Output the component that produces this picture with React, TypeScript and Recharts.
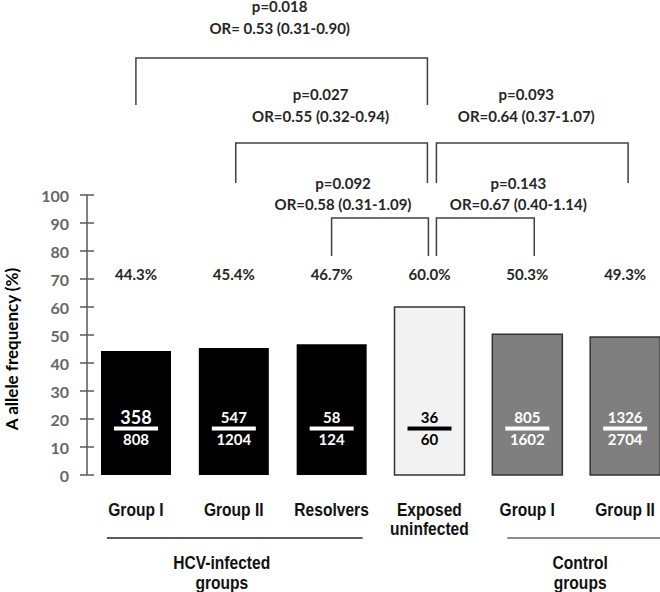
import React from "react";
import { BarChart, Bar, XAxis, YAxis, Cell, LabelList, ReferenceLine } from "recharts";

// categories (ids are unique because two groups share the same label)
const ids = ["hcvI", "hcvII", "resolvers", "exposed", "ctrlI", "ctrlII"];
const tickLabels = [["Group I"], ["Group II"], ["Resolvers"], ["Exposed", "uninfected"], ["Group I"], ["Group II"]];
const frequency = [44.3, 45.4, 46.7, 60.0, 50.3, 49.3];
const alleleA = [358, 547, 58, 36, 805, 1326];
const alleleTotal = [808, 1204, 124, 60, 1602, 2704];
const yTicks = [0, 10, 20, 30, 40, 50, 60, 70, 80, 90, 100];

// comparisons
const compFrom = ["hcvI", "hcvII", "exposed", "resolvers", "exposed"];
const compTo = ["exposed", "exposed", "ctrlII", "exposed", "ctrlI"];
const pValues = ["p=0.018", "p=0.027", "p=0.093", "p=0.092", "p=0.143"];
const orValues = ["OR= 0.53 (0.31-0.90)", "OR=0.55 (0.32-0.94)", "OR=0.64 (0.37-1.07)", "OR=0.58 (0.31-1.09)", "OR=0.67 (0.40-1.14)"];

// group captions under the axis
const groupFrom = ["hcvI", "ctrlI"];
const groupTo = ["resolvers", "ctrlII"];
const groupNames = [["HCV-infected", "groups"], ["Control", "groups"]];

// styling / layout
const barFill = ["#000", "#000", "#000", "#f2f2f2", "#7f7f7f", "#7f7f7f"];
const barStroke = ["none", "none", "none", "#333", "#333", "#333"];
const fracColor = ["#fff", "#fff", "#fff", "#000", "#fff", "#fff"];
const bracketStyle = [
  { level: 148.9, leg: 47, dx1: 0, dx2: -2, tdx: -2, pdy: -52, ody: -30 },
  { level: 118.6, leg: 40, dx1: 2, dx2: -2, tdx: -11, pdy: -49, ody: -27 },
  { level: 118.6, leg: 40, dx1: 7, dx2: 3, tdx: -6, pdy: -49, ody: -27 },
  { level: 91.8, leg: 38, dx1: 0, dx2: -1, tdx: -37, pdy: -35, ody: -14 },
  { level: 91.8, leg: 38, dx1: 7, dx2: 7, tdx: 33, pdy: -35, ody: -14 },
];
const groupStyle = [
  { dx1: -29, dx2: 31, tdx: -12, color: "#222" },
  { dx1: -20, dx2: 40, tdx: 4, color: "#666" },
];

const NUM_FONT = "Lato, 'Open Sans', sans-serif";
// no narrow face installed: Liberation Sans squeezed horizontally instead
const LABEL_FONT = "'Liberation Sans', Arial, sans-serif";
const NARROW = 0.82;

const data = ids.map((id, i) => ({
  id,
  freq: frequency[i],
  frac: `${alleleA[i]}/${alleleTotal[i]}`,
}));

function NarrowText({ x, y, children }: any) {
  return (
    <text transform={`translate(${x},${y}) scale(${NARROW},1)`} textAnchor="middle" dominantBaseline="central"
      fontFamily={LABEL_FONT} fontWeight={700} fontSize={19} fill="#111">{children}</text>
  );
}

function PercentLabel(props: any) {
  const { x, y, width, height, value } = props;
  const bottom = y + height;
  const ppu = height / value;
  return (
    <text x={x + width / 2} y={bottom - 71.8 * ppu} textAnchor="middle" dominantBaseline="central"
      fontFamily={NUM_FONT} fontWeight={700} fontSize={15} fill="#262626">
      {`${Number(value).toFixed(1)}%`}
    </text>
  );
}

function FractionLabel(props: any) {
  const { x, y, width, height, value, index } = props;
  const [num, den] = String(value).split("/");
  const i = index ?? 0;
  const bottom = y + height;
  const ppu = height / frequency[i];
  const cx = x + width / 2;
  const ly = bottom - 16.6 * ppu;
  const col = fracColor[i];
  return (
    <g>
      <rect x={cx - 22} y={ly - 2} width={44} height={4} fill={col} />
      <text x={cx} y={ly - 12} textAnchor="middle" dominantBaseline="central" fontFamily={NUM_FONT}
        fontWeight={700} fontSize={i === 0 ? 18 : 15} fill={col}>{num}</text>
      <text x={cx} y={ly + 10} textAnchor="middle" dominantBaseline="central" fontFamily={NUM_FONT}
        fontWeight={700} fontSize={15} fill={col}>{den}</text>
    </g>
  );
}

function YTick(props: any) {
  const { x, y, payload } = props;
  return (
    <g>
      <line x1={x + 11} x2={x + 25} y1={y} y2={y} stroke="#595959" strokeWidth={1.5} />
      <text x={x} y={y} textAnchor="end" dominantBaseline="central" fontFamily={NUM_FONT}
        fontWeight={700} fontSize={16} fill="#666">{payload.value}</text>
    </g>
  );
}

function XTick(props: any) {
  const { x, y, payload } = props;
  const lines = tickLabels[ids.indexOf(payload.value)] || [];
  return (
    <g>
      {lines.map((t, k) => (
        <NarrowText key={k} x={x} y={y + 34 + k * 19}>{t}</NarrowText>
      ))}
    </g>
  );
}

function makeBracket(k: number) {
  const s = bracketStyle[k];
  return (props: any) => {
    const { x1, x2, y1 } = props;
    const a = x1 + s.dx1;
    const b = x2 + s.dx2;
    const mid = (a + b) / 2 + s.tdx;
    return (
      <g>
        <path d={`M${a},${y1 + s.leg}V${y1}H${b}V${y1 + s.leg}`} fill="none" stroke="#404040" strokeWidth={1.5} />
        <text x={mid} y={y1 + s.pdy} textAnchor="middle" dominantBaseline="central" fontFamily={NUM_FONT}
          fontWeight={700} fontSize={15} fill="#262626">{pValues[k]}</text>
        <text x={mid} y={y1 + s.ody} textAnchor="middle" dominantBaseline="central" fontFamily={NUM_FONT}
          fontWeight={700} fontSize={15} fill="#262626">{orValues[k]}</text>
      </g>
    );
  };
}

function makeGroup(k: number) {
  const s = groupStyle[k];
  return (props: any) => {
    const { x1, x2, y1 } = props;
    const mid = (x1 + x2) / 2 + s.tdx;
    return (
      <g>
        <line x1={x1 + s.dx1} x2={x2 + s.dx2} y1={y1} y2={y1} stroke={s.color} strokeWidth={1.5} />
        {groupNames[k].map((t, j) => (
          <NarrowText key={j} x={mid} y={y1 + 24 + j * 20}>{t}</NarrowText>
        ))}
      </g>
    );
  };
}

export default function App() {
  return (
    <div style={{ position: "absolute", top: 0, left: 0, width: 660, height: 592, overflow: "hidden", background: "#fff" }}>
      <BarChart width={674} height={592} data={data} margin={{ top: 195, right: 0, bottom: 0, left: 0 }}>
        <XAxis dataKey="id" height={117} axisLine={false} tickLine={false} tickSize={0} tickMargin={0}
          interval={0} tick={<XTick />} />
        <YAxis domain={[0, 100]} ticks={yTicks} interval={0} width={87} tickSize={7} tickMargin={11}
          tickLine={false} axisLine={{ stroke: "#595959", strokeWidth: 1.5 }} tick={<YTick />}
          label={{
            content: ({ viewBox }: any) => (
              <text transform={`translate(${viewBox.x + 11},${viewBox.y + viewBox.height / 2 + 14}) rotate(-90)`}
                textAnchor="middle" dominantBaseline="central" fontFamily={NUM_FONT} fontWeight={700}
                fontSize={17} fill="#000">A allele frequency (%)</text>
            ),
          }} />
        <Bar dataKey="freq" barSize={70} isAnimationActive={false}>
          {data.map((d, i) => (
            <Cell key={d.id} fill={barFill[i]} stroke={barStroke[i]} strokeWidth={1.5} />
          ))}
          <LabelList dataKey="freq" content={<PercentLabel />} />
          <LabelList dataKey="frac" content={<FractionLabel />} />
        </Bar>
        {bracketStyle.map((s, k) => (
          <ReferenceLine key={`b${k}`} ifOverflow="visible"
            segment={[{ x: compFrom[k], y: s.level }, { x: compTo[k], y: s.level }]}
            shape={makeBracket(k)} />
        ))}
        {groupStyle.map((s, k) => (
          <ReferenceLine key={`g${k}`} ifOverflow="visible"
            segment={[{ x: groupFrom[k], y: -22.5 }, { x: groupTo[k], y: -22.5 }]}
            shape={makeGroup(k)} />
        ))}
      </BarChart>
    </div>
  );
}
